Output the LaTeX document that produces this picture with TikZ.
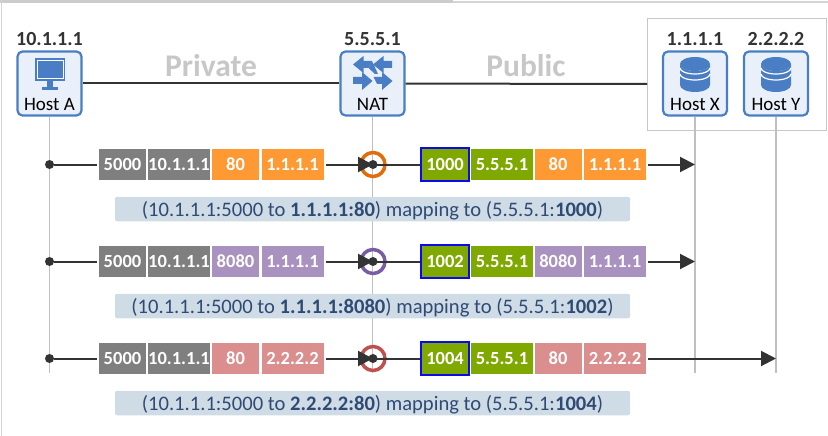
\documentclass[tikz,border=0pt]{standalone}
\usepackage{fontspec}
\setmainfont{Carlito}
\usepackage{tikz}
\usetikzlibrary{calc}
\usetikzlibrary{arrows.meta}

\definecolor{hostblue}{HTML}{4A7EC4}
\definecolor{hostfill}{HTML}{EAF0FA}
\definecolor{pktgray}{HTML}{7F7F7F}
\definecolor{pktorange}{HTML}{FF9933}
\definecolor{pktpurple}{HTML}{A992BF}
\definecolor{pktred}{HTML}{DA8E8E}
\definecolor{pktgreen}{HTML}{7FA800}
\definecolor{capfill}{HTML}{CFDCE6}
\definecolor{captext}{HTML}{2F4A75}
\definecolor{wire}{HTML}{333333}
\definecolor{life}{HTML}{BFBFBF}

\tikzset{
  hostbox/.style={draw=hostblue, fill=hostfill, line width=2.2pt, rounded corners=5pt, minimum width=64pt, minimum height=64pt, inner sep=0pt},
  hostname/.style={font=\fontsize{19}{22}\selectfont, text=black, inner sep=0pt},
  addr/.style={font=\fontsize{20}{22}\selectfont\bfseries, text=wire, inner sep=0pt},
  zone/.style={font=\fontsize{31.5}{34}\selectfont\bfseries, text=black!22, inner sep=0pt},
  pkt/.style={font=\fontsize{18.5}{20}\selectfont\bfseries, text=white, minimum height=31pt, inner sep=0pt},
  pktnarrow/.style={pkt, minimum width=47pt},
  pktwide/.style={pkt, minimum width=62pt},
  portbox/.style={pktnarrow, fill=pktgreen, draw={rgb,255:red,10;green,10;blue,235}, line width=2pt, minimum width=48pt, minimum height=33pt},
  caption/.style={fill=capfill, rounded corners=2pt, minimum width=515pt, minimum height=24.5pt, inner sep=0pt, text height=18pt, text depth=4pt, text=captext, font=\fontsize{20.6}{23}\selectfont},
  dot/.style={circle, fill=wire, minimum size=9pt, inner sep=0pt},
  flow/.style={draw=wire, line width=2pt},
  flowarrow/.style={flow, -{Triangle[length=15pt,width=15pt]}},
  icon/.style={fill=hostblue, draw=none},
  lifeline/.style={draw=life, line width=1.5pt}
}

\begin{document}
\begin{tikzpicture}[x=1pt,y=-1pt]
\useasboundingbox (0,0) rectangle (828,436);

% window edge
\fill[black!20] (0,0) rectangle (453,3);
\fill[black!17] (453,1.5) rectangle (828,3);
\fill[black!17] (1,0) rectangle (2,436);

% hosts
\draw[draw=black!22, line width=1pt] (647,19) rectangle (826,130);

\coordinate (frameleft) at (647,84);
\node[hostbox] (hostA) at (49.5,83.5) {};
\node[hostbox] (nat) at (372.5,83.5) {};
\node[hostbox] (hostX) at (695,83.5) {};
\node[hostbox] (hostY) at (776,83.5) {};

\draw[flow] (hostA) -- (nat);
\draw[flow] (nat) -- (frameleft);

\node[hostname] (hostAname) at ($(hostA)+(0,21)$) {Host A};
\node[hostname] (natname) at ($(nat)+(0,21)$) {NAT};
\node[hostname] (hostXname) at ($(hostX)+(0,21)$) {Host X};
\node[hostname] (hostYname) at ($(hostY)+(0,21)$) {Host Y};

\node[addr] (hostAip) at ($(hostA)+(0,-44)$) {10.1.1.1};
\node[addr] (natip) at ($(nat)+(0,-44)$) {5.5.5.1};
\node[addr] (hostXip) at ($(hostX)+(0,-44)$) {1.1.1.1};
\node[addr] (hostYip) at ($(hostY)+(0,-44)$) {2.2.2.2};

\node[zone] (private) at (211,66) {Private};
\node[zone] (public) at (526,66) {Public};

% monitor
\fill[icon] (35,58) rectangle (65,81.5);
\draw[white, line width=.8pt] (37,60) rectangle (63,78.5);
\fill[icon] (47,81.5) rectangle (53,87);
\fill[icon] (42,87) rectangle (58,90);

% nat arrows
\fill[icon] (353,64.5)--(363.5,56)--(363.5,61)--(372,61)--(368.5,68)--(363.5,68)--(363.5,73)--cycle;
\fill[icon] (373,64.5)--(383.5,56)--(383.5,61)--(392,61)--(392,68)--(383.5,68)--(383.5,73)--cycle;
\fill[icon] (372.5,81)--(362,72)--(362,77)--(353,77)--(353,84)--(362,84)--(362,90)--cycle;
\fill[icon] (392.5,81)--(382,72)--(382,77)--(373.5,77)--(377,84)--(382,84)--(382,90)--cycle;
\fill[icon] (368.5,68)--(372,61)--(378,74)--(375,74)--cycle;

% disk of host X
\coordinate (O) at (695,64);
\fill[icon] (O)++(-15,0) arc (180:360:15 and -7) -- ++(0,21) arc (0:-180:15 and -7) -- cycle;
\fill[icon] (O) ellipse (15 and 7);
\draw[white, line width=1.2pt] (O)++(-15,4) arc (180:360:15 and -6);
\draw[white, line width=1.2pt] (O)++(-15,10) arc (180:360:15 and -6);

% disk of host Y
\coordinate (O) at (776,64);
\fill[icon] (O)++(-15,0) arc (180:360:15 and -7) -- ++(0,21) arc (0:-180:15 and -7) -- cycle;
\fill[icon] (O) ellipse (15 and 7);
\draw[white, line width=1.2pt] (O)++(-15,4) arc (180:360:15 and -6);
\draw[white, line width=1.2pt] (O)++(-15,10) arc (180:360:15 and -6);

% lifelines
\coordinate (endA) at (49.5,373);
\coordinate (endN) at (372.5,373);
\coordinate (endX) at (695,373);
\coordinate (endY) at (776,373);
\draw[lifeline] (hostA) -- (endA);
\draw[lifeline] (nat) -- (endN);
\draw[lifeline] (hostX) -- (endX);
\draw[lifeline] (hostY) -- (endY);

% first row
\coordinate (O) at (0,164.5);

\node[dot] (src1) at ($(O)+(49.5,0)$) {};
\coordinate (nat1) at ($(O)+(373,0)$);
\coordinate (dst1) at ($(O)+(695,0)$);

\node[pktnarrow, fill=pktgray] (p1a) at ($(O)+(122.5,0)$) {5000};
\node[pktwide, fill=pktgray] (p1b) at ($(O)+(179,0)$) {10.1.1.1};
\node[pktnarrow, fill=pktorange] (p1c) at ($(O)+(235.5,0)$) {80};
\node[pktwide, fill=pktorange] (p1d) at ($(O)+(292.5,0)$) {1.1.1.1};

\node[portbox] (p1e) at ($(O)+(445,0)$) {1000};
\node[pktwide, fill=pktgreen] (p1f) at ($(O)+(502,0)$) {5.5.5.1};
\node[pktnarrow, fill=pktorange] (p1g) at ($(O)+(558,0)$) {80};
\node[pktwide, fill=pktorange] (p1h) at ($(O)+(615,0)$) {1.1.1.1};

\draw[draw={rgb,255:red,227;green,108;blue,10}, line width=3.5pt] (nat1) circle (12);
\draw[flow, shorten >=2pt] (src1) -- (p1a);
\draw[flowarrow, shorten <=2pt] (p1d) -- (nat1);
\draw[flow] (nat1) -- (p1e);
\draw[flowarrow, shorten <=2pt] (p1h) -- (dst1);
\node[dot] (natdot1) at (nat1) {};

\node[caption] (cap1) at ($(O)+(372.5,44.5)$) {(10.1.1.1:5000 to \textbf{1.1.1.1:80}) mapping to (5.5.5.1:\textbf{1000})};

% second row
\coordinate (O) at (0,261.5);

\node[dot] (src2) at ($(O)+(49.5,0)$) {};
\coordinate (nat2) at ($(O)+(373,0)$);
\coordinate (dst2) at ($(O)+(695,0)$);

\node[pktnarrow, fill=pktgray] (p2a) at ($(O)+(122.5,0)$) {5000};
\node[pktwide, fill=pktgray] (p2b) at ($(O)+(179,0)$) {10.1.1.1};
\node[pktnarrow, fill=pktpurple] (p2c) at ($(O)+(235.5,0)$) {8080};
\node[pktwide, fill=pktpurple] (p2d) at ($(O)+(292.5,0)$) {1.1.1.1};

\node[portbox] (p2e) at ($(O)+(445,0)$) {1002};
\node[pktwide, fill=pktgreen] (p2f) at ($(O)+(502,0)$) {5.5.5.1};
\node[pktnarrow, fill=pktpurple] (p2g) at ($(O)+(558,0)$) {8080};
\node[pktwide, fill=pktpurple] (p2h) at ($(O)+(615,0)$) {1.1.1.1};

\draw[draw={rgb,255:red,122;green,92;blue,166}, line width=3.5pt] (nat2) circle (12);
\draw[flow, shorten >=2pt] (src2) -- (p2a);
\draw[flowarrow, shorten <=2pt] (p2d) -- (nat2);
\draw[flow] (nat2) -- (p2e);
\draw[flowarrow, shorten <=2pt] (p2h) -- (dst2);
\node[dot] (natdot2) at (nat2) {};

\node[caption] (cap2) at ($(O)+(372.5,44.5)$) {(10.1.1.1:5000 to \textbf{1.1.1.1:8080}) mapping to (5.5.5.1:\textbf{1002})};

% third row
\coordinate (O) at (0,358.5);

\node[dot] (src3) at ($(O)+(49.5,0)$) {};
\coordinate (nat3) at ($(O)+(373,0)$);
\coordinate (dst3) at ($(O)+(776,0)$);

\node[pktnarrow, fill=pktgray] (p3a) at ($(O)+(122.5,0)$) {5000};
\node[pktwide, fill=pktgray] (p3b) at ($(O)+(179,0)$) {10.1.1.1};
\node[pktnarrow, fill=pktred] (p3c) at ($(O)+(235.5,0)$) {80};
\node[pktwide, fill=pktred] (p3d) at ($(O)+(292.5,0)$) {2.2.2.2};

\node[portbox] (p3e) at ($(O)+(445,0)$) {1004};
\node[pktwide, fill=pktgreen] (p3f) at ($(O)+(502,0)$) {5.5.5.1};
\node[pktnarrow, fill=pktred] (p3g) at ($(O)+(558,0)$) {80};
\node[pktwide, fill=pktred] (p3h) at ($(O)+(615,0)$) {2.2.2.2};

\draw[draw={rgb,255:red,192;green,80;blue,77}, line width=3.5pt] (nat3) circle (12);
\draw[flow, shorten >=2pt] (src3) -- (p3a);
\draw[flowarrow, shorten <=2pt] (p3d) -- (nat3);
\draw[flow] (nat3) -- (p3e);
\draw[flowarrow, shorten <=2pt] (p3h) -- (dst3);
\node[dot] (natdot3) at (nat3) {};

\node[caption] (cap3) at ($(O)+(372.5,44.5)$) {(10.1.1.1:5000 to \textbf{2.2.2.2:80}) mapping to (5.5.5.1:\textbf{1004})};

\end{tikzpicture}
\end{document}
